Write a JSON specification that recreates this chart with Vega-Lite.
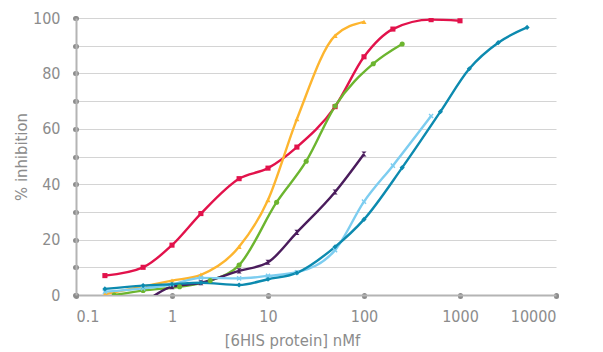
{
  "$schema": "https://vega.github.io/schema/vega-lite/v6.json",
  "width": 480,
  "height": 277,
  "autosize": {"type": "none"},
  "padding": {"left": 76, "top": 18, "right": 47, "bottom": 57},
  "background": "white",
  "config": {
    "view": {"stroke": null},
    "font": "Liberation Sans Narrow, DejaVu Sans Condensed, Roboto, sans-serif",
    "axis": {
      "labelFont": "Liberation Sans Narrow, DejaVu Sans Condensed, Roboto, sans-serif",
      "titleFont": "Liberation Sans Narrow, DejaVu Sans Condensed, Roboto, sans-serif",
      "labelColor": "#8c8c8c",
      "titleColor": "#8c8c8c",
      "labelFontSize": 16,
      "titleFontSize": 16.5,
      "titleFontWeight": "normal",
      "domainColor": "#b4b4b4",
      "domainWidth": 2,
      "tickColor": "#8c8c8c",
      "tickSize": 1,
      "tickWidth": 5,
      "tickCap": "round",
      "gridColor": "#d4d4d4",
      "gridWidth": 1.2
    }
  },
  "data": {
    "values": [
      {"series": "red", "conc": 0.2, "inhib": 7},
      {"series": "red", "conc": 0.5, "inhib": 10},
      {"series": "red", "conc": 1, "inhib": 18},
      {"series": "red", "conc": 2, "inhib": 29.4},
      {"series": "red", "conc": 5, "inhib": 42},
      {"series": "red", "conc": 10, "inhib": 45.8},
      {"series": "red", "conc": 20, "inhib": 53.4},
      {"series": "red", "conc": 50, "inhib": 68},
      {"series": "red", "conc": 100, "inhib": 86},
      {"series": "red", "conc": 200, "inhib": 96},
      {"series": "red", "conc": 500, "inhib": 99.4},
      {"series": "red", "conc": 1000, "inhib": 99},
      {"series": "yellow", "conc": 0.2, "inhib": 0.3},
      {"series": "yellow", "conc": 1, "inhib": 5.2},
      {"series": "yellow", "conc": 2, "inhib": 7.3},
      {"series": "yellow", "conc": 5, "inhib": 17.4},
      {"series": "yellow", "conc": 10, "inhib": 34.3},
      {"series": "yellow", "conc": 20, "inhib": 63.5},
      {"series": "yellow", "conc": 50, "inhib": 93.6},
      {"series": "yellow", "conc": 100, "inhib": 98.6},
      {"series": "green", "conc": 0.25, "inhib": 0},
      {"series": "green", "conc": 0.5, "inhib": 1.6},
      {"series": "green", "conc": 1.2, "inhib": 3},
      {"series": "green", "conc": 2.5, "inhib": 5.2},
      {"series": "green", "conc": 5, "inhib": 10.8},
      {"series": "green", "conc": 12.3, "inhib": 33.5},
      {"series": "green", "conc": 25, "inhib": 48.3},
      {"series": "green", "conc": 50, "inhib": 68.2},
      {"series": "green", "conc": 125, "inhib": 83.5},
      {"series": "green", "conc": 250, "inhib": 90.6},
      {"series": "purple", "conc": 0.5, "inhib": -3},
      {"series": "purple", "conc": 1, "inhib": 3},
      {"series": "purple", "conc": 2, "inhib": 4.4},
      {"series": "purple", "conc": 5, "inhib": 8.7},
      {"series": "purple", "conc": 10, "inhib": 11.8},
      {"series": "purple", "conc": 20, "inhib": 22.6},
      {"series": "purple", "conc": 50, "inhib": 37.2},
      {"series": "purple", "conc": 100, "inhib": 50.9},
      {"series": "lightblue", "conc": 0.2, "inhib": 1.2},
      {"series": "lightblue", "conc": 0.5, "inhib": 2.4},
      {"series": "lightblue", "conc": 1, "inhib": 3.8},
      {"series": "lightblue", "conc": 2, "inhib": 6.2},
      {"series": "lightblue", "conc": 5, "inhib": 6},
      {"series": "lightblue", "conc": 10, "inhib": 6.9},
      {"series": "lightblue", "conc": 20, "inhib": 8.2},
      {"series": "lightblue", "conc": 50, "inhib": 16.2},
      {"series": "lightblue", "conc": 100, "inhib": 33.7},
      {"series": "lightblue", "conc": 200, "inhib": 46.7},
      {"series": "lightblue", "conc": 500, "inhib": 64.6},
      {"series": "teal", "conc": 0.2, "inhib": 2.2},
      {"series": "teal", "conc": 0.5, "inhib": 3.4},
      {"series": "teal", "conc": 1, "inhib": 3.9},
      {"series": "teal", "conc": 2, "inhib": 4.4},
      {"series": "teal", "conc": 5, "inhib": 3.6},
      {"series": "teal", "conc": 10, "inhib": 5.7},
      {"series": "teal", "conc": 20, "inhib": 8},
      {"series": "teal", "conc": 50, "inhib": 17.4},
      {"series": "teal", "conc": 100, "inhib": 27.3},
      {"series": "teal", "conc": 250, "inhib": 46},
      {"series": "teal", "conc": 625, "inhib": 66.2},
      {"series": "teal", "conc": 1250, "inhib": 81.7},
      {"series": "teal", "conc": 2500, "inhib": 91.1},
      {"series": "teal", "conc": 5000, "inhib": 96.6}
    ]
  },
  "encoding": {
    "x": {
      "field": "conc",
      "type": "quantitative",
      "scale": {"type": "log", "domain": [0.1, 10000], "nice": false},
      "axis": {
        "values": [0.1, 1, 10, 100, 1000, 10000],
        "labelExpr": "datum.value < 1 ? '0.1' : format(datum.value, 'd')",
        "grid": false,
        "labelPadding": 12,
        "titlePadding": 8,
        "titleX": 216,
        "title": "[6HIS protein] nMf"
      }
    },
    "y": {
      "field": "inhib",
      "type": "quantitative",
      "scale": {"domain": [0, 100], "nice": false},
      "axis": {
        "values": [0, 10, 20, 30, 40, 50, 60, 70, 80, 90, 100],
        "labelExpr": "datum.value % 20 == 0 ? datum.label : ''",
        "grid": true,
        "labelPadding": 15,
        "titlePadding": 3,
        "title": "% inhibition"
      }
    },
    "color": {
      "field": "series",
      "type": "nominal",
      "legend": null,
      "scale": {
        "domain": ["teal", "lightblue", "purple", "green", "red", "yellow"],
        "range": ["#0c8aaf", "#7dcdf0", "#4a1c5c", "#6cb52f", "#e2124b", "#fdb52f"]
      }
    }
  },
  "layer": [
    {
      "mark": {"type": "line", "interpolate": "monotone", "strokeWidth": 2.4, "clip": true}
    },
    {
      "mark": {"type": "point", "filled": true, "opacity": 1, "clip": true, "size": 26},
      "encoding": {
        "shape": {
          "field": "series",
          "type": "nominal",
          "legend": null,
          "scale": {
            "domain": ["teal", "lightblue", "purple", "green", "red", "yellow"],
            "range": ["diamond", "M-1,-0.6L-0.6,-1L0,-0.4L0.6,-1L1,-0.6L0.4,0L1,0.6L0.6,1L0,0.4L-0.6,1L-1,0.6L-0.4,0Z", "M-1,-1L1,-1L-1,1L1,1Z", "circle", "square", "triangle-up"]
          }
        }
      }
    }
  ]
}
